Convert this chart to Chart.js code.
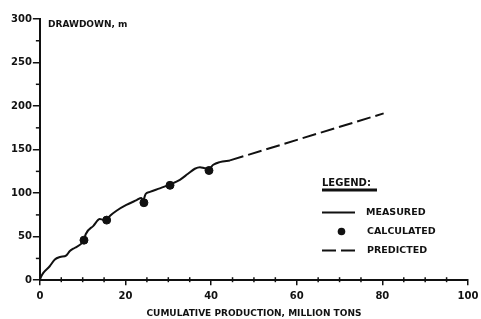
<!DOCTYPE html>
<html>
<head>
<meta charset="utf-8">
<script src="https://cdn.jsdelivr.net/npm/chart.js@4"></script>
<style>
  html, body { margin: 0; padding: 0; background: #fff; }
  #wrap { width: 481px; height: 319px; }
</style>
</head>
<body>
<div id="wrap"><canvas id="myChart" width="481" height="319"></canvas></div>
<script>
// measured drawdown curve
const measuredX = [0, 0.2, 0.8, 2.3, 3.5, 4.7, 6.2, 7, 8.2, 9.7, 10.3, 10.7, 12.5, 14, 14.8, 15.6, 16.4, 17.9, 20.2, 22.6, 23.7, 24.1, 24.7, 25.7, 28, 30.4, 32.7, 34.6, 36.2, 37.4, 38.5, 39.5, 40.5, 42, 44.4];
const measuredY = [0, 3, 8.4, 16, 23.8, 26.6, 28.5, 33.5, 37.3, 42, 46, 52.8, 62.4, 70.2, 69.5, 69.5, 74, 79.8, 86.4, 92, 94.5, 91.5, 99, 101.5, 105.5, 110, 115.3, 122.2, 128, 129.8, 128.5, 128, 132.6, 135.6, 137.6];

// calculated points
const calcX = [10.3, 15.6, 24.3, 30.4, 39.5];
const calcY = [46, 69, 89, 109, 126];

// predicted line
const predX = [44.4, 80.3];
const predY = [137.6, 191.6];

const xTicks = [0, 20, 40, 60, 80, 100];
const yTicks = [0, 50, 100, 150, 200, 250, 300];

const FONT = 'DejaVu Sans';

function pts(xs, ys) {
  return xs.map((x, i) => ({ x: x, y: ys[i] }));
}

const extras = {
  id: 'extras',
  afterDraw(chart) {
    const ctx = chart.ctx;
    const xs = chart.scales.x, ys = chart.scales.y;
    const a = chart.chartArea;
    ctx.save();
    ctx.strokeStyle = '#111';
    ctx.lineWidth = 1.5;
    // minor ticks
    for (let v = 25; v < 300; v += 50) {
      const y = ys.getPixelForValue(v);
      ctx.beginPath(); ctx.moveTo(a.left - 4, y); ctx.lineTo(a.left, y); ctx.stroke();
    }
    for (let v = 5; v < 100; v += 5) {
      if (v % 20 === 0) continue;
      const x = xs.getPixelForValue(v);
      ctx.beginPath(); ctx.moveTo(x, a.bottom - 3); ctx.lineTo(x, a.bottom + 2); ctx.stroke();
    }
    ctx.fillStyle = '#111';
    ctx.textBaseline = 'middle';
    ctx.textAlign = 'left';
    // y title inside plot
    ctx.font = 'bold 9px "' + FONT + '"';
    ctx.fillText('DRAWDOWN, m', 48, 25);

    // legend
    ctx.font = 'bold 10px "' + FONT + '"';
    ctx.fillText('LEGEND:', 322, 183);
    ctx.fillRect(322, 188.5, 55, 3);
    ctx.font = 'bold 9.5px "' + FONT + '"';
    ctx.lineWidth = 2;
    ctx.beginPath(); ctx.moveTo(322, 212.5); ctx.lineTo(355, 212.5); ctx.stroke();
    ctx.fillText('MEASURED', 366, 213);
    ctx.beginPath(); ctx.arc(341.5, 231.5, 3.8, 0, Math.PI * 2); ctx.fill();
    ctx.fillText('CALCULATED', 367, 232);
    ctx.setLineDash([14, 5]);
    ctx.beginPath(); ctx.moveTo(322, 250.5); ctx.lineTo(355, 250.5); ctx.stroke();
    ctx.setLineDash([]);
    ctx.fillText('PREDICTED', 367, 251);
    ctx.restore();
  }
};

let ctx = document.getElementById('myChart').getContext('2d');
let chart = new Chart(ctx, {
  type: 'scatter',
  data: {
    datasets: [{
      label: 'MEASURED',
      data: pts(measuredX, measuredY),
      showLine: true,
      borderColor: '#111',
      borderWidth: 2,
      pointRadius: 0,
      cubicInterpolationMode: 'monotone'
    }, {
      label: 'CALCULATED',
      data: pts(calcX, calcY),
      backgroundColor: '#111',
      borderColor: '#111',
      pointRadius: 4,
      showLine: false
    }, {
      label: 'PREDICTED',
      data: pts(predX, predY),
      showLine: true,
      borderColor: '#111',
      borderWidth: 2,
      borderDash: [14, 5],
      pointRadius: 0
    }]
  },
  options: {
    responsive: false,
    animation: false,
    layout: { padding: { left: 10, right: 0, top: 19, bottom: 0 } },
    plugins: {
      legend: { display: false },
      tooltip: { enabled: false }
    },
    scales: {
      x: {
        type: 'linear',
        min: 0, max: 100,
        afterBuildTicks: (s) => { s.ticks = xTicks.map(v => ({ value: v })); },
        afterFit: (s) => { s.paddingRight = 13; },
        grid: { drawOnChartArea: false, drawTicks: true, tickLength: 5, color: '#111', lineWidth: 1.5 },
        border: { display: true, color: '#111', width: 2 },
        ticks: { color: '#111', font: { family: FONT, size: 10, weight: 'bold' }, padding: 5, maxRotation: 0 },
        title: {
          display: true,
          text: 'CUMULATIVE PRODUCTION, MILLION TONS',
          color: '#111',
          font: { family: FONT, size: 9, weight: 'bold' },
          padding: { top: 1, bottom: 0 }
        }
      },
      y: {
        type: 'linear',
        min: 0, max: 300,
        afterBuildTicks: (s) => { s.ticks = yTicks.map(v => ({ value: v })); },
        grid: { drawOnChartArea: false, drawTicks: true, tickLength: 7, color: '#111', lineWidth: 1.5 },
        border: { display: true, color: '#111', width: 2 },
        ticks: { color: '#111', font: { family: FONT, size: 10, weight: 'bold' }, padding: 1 }
      }
    }
  },
  plugins: [extras]
});
</script>
</body>
</html>
